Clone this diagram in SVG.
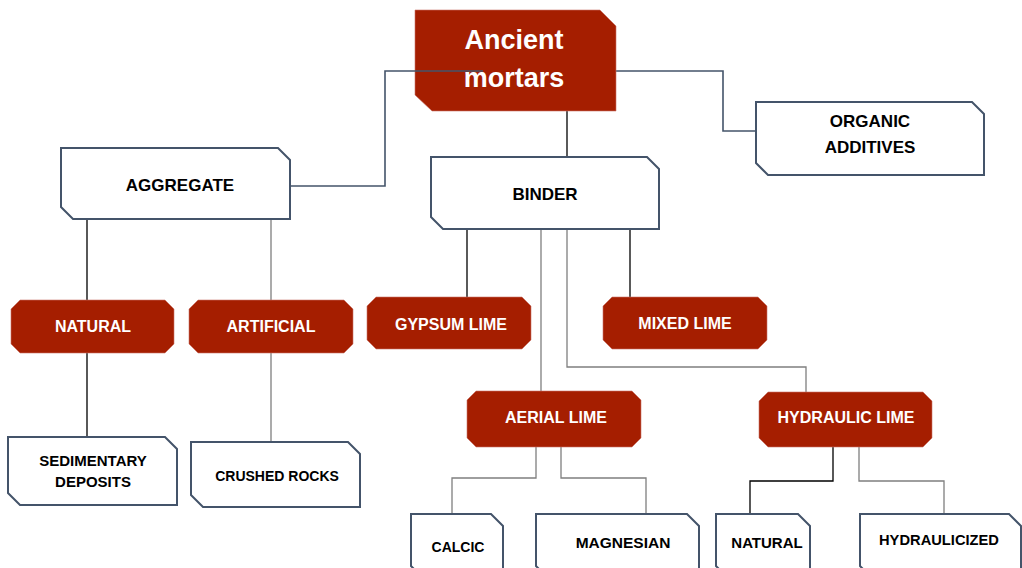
<svg xmlns="http://www.w3.org/2000/svg" width="1022" height="568" viewBox="0 0 1022 568">
<style>
.wb{fill:#fff;stroke:#44546A;stroke-width:2}
.rb{fill:#A51E00;stroke:#C9736A;stroke-width:0.6}
.t{font-family:"Liberation Sans",Arial,sans-serif;font-weight:bold;text-anchor:middle}
.bk{fill:#000}
.wt{fill:#fff}
.c{fill:none;stroke-width:1.3}
.sl{stroke:#44546A;stroke-width:1.6}
.k{stroke:#000}
.g{stroke:#7F7F7F}
</style>
<rect width="1022" height="568" fill="#fff"/>
<g id="connectors">
<path class="c sl" d="M616,71 H723 V131 H756"/>
<path class="c k" d="M567,107 V157"/>
<path class="c k" d="M87,219 V300 M87,353 V437"/>
<path class="c g" d="M271,219 V300 M271,353 V442"/>
<path class="c k" d="M467,229 V297"/>
<path class="c g" d="M541,229 V391"/>
<path class="c g" d="M567,229 V367 H806 V392"/>
<path class="c k" d="M630,229 V297"/>
<path class="c g" d="M536,447 V478 H452 V514"/>
<path class="c g" d="M561,447 V478 H646 V514"/>
<path class="c k" d="M833,447 V481 H750 V514"/>
<path class="c g" d="M859,447 V481 H944 V514"/>
</g>
<g id="ancient">
<polygon class="rb" points="415,10 600,10 616,26 616,111 432,111 415,95"/>
<text class="t wt" x="514" y="49" font-size="27">Ancient</text>
<text class="t wt" x="514" y="87" font-size="27">mortars</text>
</g>
<g id="connector-aggregate">
<path class="c sl" d="M483,71 H385 V186 H290"/>
</g>
<g id="aggregate">
<polygon class="wb" points="61,148 278,148 290,160 290,219 73,219 61,207"/>
<text class="t bk" x="180" y="191" font-size="17">AGGREGATE</text>
</g>
<g id="binder">
<polygon class="wb" points="431,157 647,157 659,169 659,229 443,229 431,217"/>
<text class="t bk" x="545" y="200" font-size="17">BINDER</text>
</g>
<g id="organic">
<polygon class="wb" points="756,102 972,102 984,114 984,175 768,175 756,163"/>
<text class="t bk" x="870" y="127" font-size="17">ORGANIC</text>
<text class="t bk" x="870" y="153" font-size="17">ADDITIVES</text>
</g>
<g id="natural">
<polygon class="rb" points="20,300 165,300 174,309 174,344 165,353 20,353 11,344 11,309"/>
<text class="t wt" x="93" y="332" font-size="16">NATURAL</text>
</g>
<g id="artificial">
<polygon class="rb" points="198,300 344,300 353,309 353,344 344,353 198,353 189,344 189,309"/>
<text class="t wt" x="271" y="332" font-size="16">ARTIFICIAL</text>
</g>
<g id="gypsum">
<polygon class="rb" points="376,297 522,297 531,306 531,340 522,349 376,349 367,340 367,306"/>
<text class="t wt" x="451" y="330" font-size="16">GYPSUM LIME</text>
</g>
<g id="mixed">
<polygon class="rb" points="612,297 758,297 767,306 767,340 758,349 612,349 603,340 603,306"/>
<text class="t wt" x="685" y="329" font-size="16">MIXED LIME</text>
</g>
<g id="aerial">
<polygon class="rb" points="476,391 632,391 641,400 641,438 632,447 476,447 467,438 467,400"/>
<text class="t wt" x="556" y="423" font-size="16">AERIAL LIME</text>
</g>
<g id="hydraulic">
<polygon class="rb" points="768,392 923,392 932,401 932,438 923,447 768,447 759,438 759,401"/>
<text class="t wt" x="846" y="423" font-size="16">HYDRAULIC LIME</text>
</g>
<g id="sedimentary">
<polygon class="wb" points="8,437 165,437 177,449 177,505 20,505 8,493"/>
<text class="t bk" x="93" y="466" font-size="15">SEDIMENTARY</text>
<text class="t bk" x="93" y="487" font-size="15">DEPOSITS</text>
</g>
<g id="crushed">
<polygon class="wb" points="191,442 348,442 360,454 360,507 203,507 191,495"/>
<text class="t bk" x="277" y="481" font-size="14">CRUSHED ROCKS</text>
</g>
<g id="calcic">
<polygon class="wb" points="411,514 491,514 503,526 503,578 423,578 411,566"/>
<text class="t bk" x="458" y="552" font-size="14">CALCIC</text>
</g>
<g id="magnesian">
<polygon class="wb" points="536,514 687,514 699,526 699,578 548,578 536,566"/>
<text class="t bk" x="623" y="548" font-size="15.5">MAGNESIAN</text>
</g>
<g id="natural2">
<polygon class="wb" points="716,514 798,514 810,526 810,578 728,578 716,566"/>
<text class="t bk" x="767" y="548" font-size="15">NATURAL</text>
</g>
<g id="hydraulicized">
<polygon class="wb" points="860,514 1009,514 1021,526 1021,578 872,578 860,566"/>
<text class="t bk" x="939" y="545" font-size="14.7">HYDRAULICIZED</text>
</g>
</svg>
